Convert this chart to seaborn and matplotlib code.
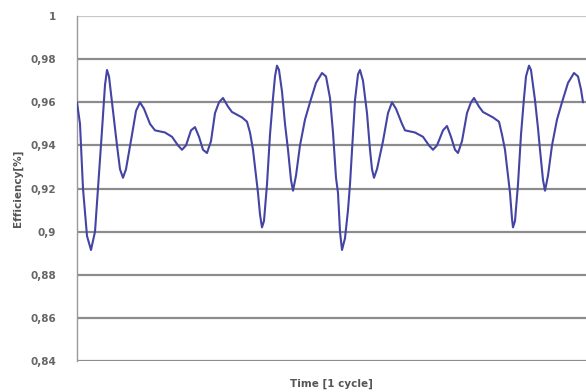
import matplotlib
matplotlib.use("Agg")
import matplotlib.pyplot as plt
import seaborn as sns
import pandas as pd

# time steps (two repeats of the cycle) and efficiency
time_steps = [0, 3, 6, 10, 14, 18, 21, 25, 28, 30, 32, 35, 40, 43, 46, 49,
              55, 59, 63, 67, 73, 78, 88, 95, 101, 105, 109, 114, 118, 122,
              126, 130, 134, 138, 142, 146, 151, 155, 165, 170, 173, 176,
              179, 181, 183, 185, 187, 190, 193, 196, 198, 200, 202, 205,
              208, 211, 214, 216, 219, 223, 228, 233, 239, 245, 249, 253,
              256, 259, 261, 263, 265, 268, 271, 273, 276, 278, 281, 283,
              286, 290, 293, 295, 297, 300, 306, 311, 315, 319, 325, 328,
              338, 346, 352, 356, 360, 366, 370, 374, 378, 381, 385, 390,
              394, 397, 402, 406, 416, 422, 425, 428, 431, 433, 435, 436,
              438, 441, 444, 447, 449, 452, 454, 458, 461, 463, 466, 468,
              471, 475, 480, 485, 491, 497, 501, 504, 506]
efficiency = [0.960, 0.950, 0.920, 0.898, 0.8915, 0.900, 0.920, 0.947, 0.968,
              0.975, 0.972, 0.960, 0.940, 0.929, 0.925, 0.929, 0.945, 0.956,
              0.960, 0.957, 0.950, 0.947, 0.946, 0.944, 0.940, 0.938, 0.940,
              0.947, 0.9485, 0.944, 0.938, 0.9365, 0.942, 0.955, 0.960, 0.962,
              0.958, 0.9555, 0.953, 0.951, 0.946, 0.938, 0.926, 0.918, 0.908,
              0.902, 0.905, 0.922, 0.945, 0.962, 0.972, 0.977, 0.975, 0.965,
              0.950, 0.938, 0.924, 0.919, 0.926, 0.940, 0.952, 0.960, 0.969,
              0.9736, 0.972, 0.962, 0.946, 0.925, 0.918, 0.900, 0.8915, 0.897,
              0.910, 0.922, 0.945, 0.961, 0.973, 0.975, 0.970, 0.955, 0.938,
              0.929, 0.925, 0.929, 0.942, 0.955, 0.960, 0.957, 0.950, 0.947,
              0.946, 0.944, 0.940, 0.938, 0.940, 0.947, 0.949, 0.944, 0.938,
              0.9365, 0.942, 0.955, 0.960, 0.962, 0.958, 0.9555, 0.953, 0.951,
              0.945, 0.938, 0.926, 0.918, 0.906, 0.902, 0.905, 0.922, 0.945,
              0.962, 0.972, 0.977, 0.975, 0.961, 0.948, 0.938, 0.924, 0.919,
              0.926, 0.940, 0.952, 0.960, 0.969, 0.9736, 0.972, 0.966, 0.960]

y_ticks = [0.84, 0.86, 0.88, 0.90, 0.92, 0.94, 0.96, 0.98, 1.0]
y_tick_labels = ["0,84", "0,86", "0,88", "0,9", "0,92", "0,94", "0,96",
                 "0,98", "1"]


def main():
    sns.set_style("white")
    plt.rcParams['font.family'] = ['DejaVu Sans']
    df = pd.DataFrame({"time": time_steps, "efficiency": efficiency})

    fig = plt.figure(figsize=(5.86, 3.92), dpi=100)
    ax = fig.add_axes([0.1314, 0.079, 0.8686, 0.880])

    for v in y_ticks:
        col = "#c8c8c8" if v == 1.0 else "#8c8c8c"
        ax.axhline(v, color=col, lw=1.6, zorder=1)

    sns.lineplot(data=df, x="time", y="efficiency", ax=ax, color="#4444a4",
                 lw=1.5, zorder=3, sort=False)

    ax.set_xlim(0, 509)
    ax.set_ylim(0.84, 1.0)
    ax.set_xticks([])
    ax.set_yticks(y_ticks)
    ax.set_yticklabels(y_tick_labels, fontsize=7.5, color="#666666",
                       fontweight="bold")
    ax.tick_params(axis="y", length=3, color="#999999", pad=12, width=0.8)
    for s in ["top", "right", "bottom"]:
        ax.spines[s].set_visible(False)
    ax.spines["left"].set_color("#999999")
    ax.spines["left"].set_linewidth(1.0)

    ax.set_xlabel("Time [1 cycle]", fontsize=7.5, color="#555555",
                  fontweight="bold", labelpad=13)
    ax.set_ylabel("Efficiency[%]", fontsize=7.5, color="#555555",
                  fontweight="bold", labelpad=5)

    fig.savefig("out.png", dpi=100)


if __name__ == "__main__":
    main()
